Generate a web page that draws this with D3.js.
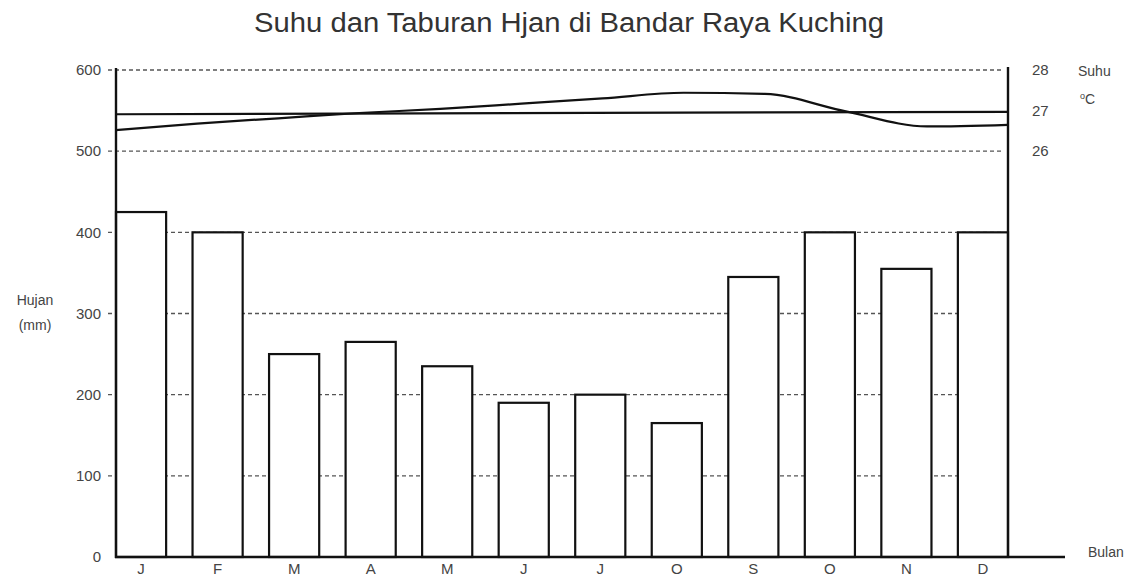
<!DOCTYPE html>
<html>
<head>
<meta charset="utf-8">
<script src="https://cdn.jsdelivr.net/npm/d3@7"></script>
<style>
  body { margin: 0; background: #fff; }
  svg { display: block; font-family: "Liberation Sans", Arial, sans-serif; }
</style>
</head>
<body>
<svg id="chart" width="1138" height="579"></svg>
<script>
// ---- data ----
const months = ["J", "F", "M", "A", "M", "J", "J", "O", "S", "O", "N", "D"];
const monthKeys = months.map((m, i) => i);
const rainfall = [425, 400, 250, 265, 235, 190, 200, 165, 345, 400, 355, 400];
const temperature = [26.52, 26.68, 26.81, 26.94, 27.04, 27.17, 27.30, 27.44, 27.41, 26.98, 26.61, 26.65];
const meanTemp = [26.91, 26.97]; // start and end of the mean line
const rainTicks = [0, 100, 200, 300, 400, 500, 600];
const tempTicks = [26, 27, 28];

const svg = d3.select("#chart");
const pLeft = 116, pRight = 1008, pTop = 70, pBottom = 557;

const x = d3.scaleBand().domain(monthKeys).range([pLeft, pRight]).paddingInner(0.345).paddingOuter(0);
const xp = d3.scalePoint().domain(monthKeys).range([pLeft, pRight]).padding(0);
const y = d3.scaleLinear().domain([0, 600]).range([pBottom, pTop]);
const yT = d3.scaleLinear().domain([26, 28]).range([y(500), y(600)]);

const textCol = "#444";
const fs = 15;

// title
svg.append("text").attr("x", 569).attr("y", 32).attr("text-anchor", "middle")
  .attr("font-size", 27).attr("fill", "#333")
  .attr("textLength", 630).attr("lengthAdjust", "spacingAndGlyphs")
  .text("Suhu dan Taburan Hjan di Bandar Raya Kuching");

// gridlines (dashed)
svg.append("g").selectAll("line").data(rainTicks.filter(d => d > 0)).join("line")
  .attr("x1", pLeft - 8).attr("x2", pRight - 4)
  .attr("y1", d => y(d)).attr("y2", d => y(d))
  .attr("stroke", "#555").attr("stroke-width", 1.3).attr("stroke-dasharray", "4,3");

// left axis labels via d3 axis
const yAxis = d3.axisLeft(y).tickValues(rainTicks).tickSize(0).tickPadding(15);
const gy = svg.append("g").attr("transform", `translate(${pLeft},0)`).call(yAxis);
gy.select(".domain").remove();
gy.selectAll("text").attr("font-size", fs).attr("fill", textCol)
  .attr("font-family", "Liberation Sans, Arial, sans-serif");

// right axis labels
const yAxisR = d3.axisRight(yT).tickValues(tempTicks).tickSize(0).tickPadding(24).tickFormat(d3.format("d"));
const gr = svg.append("g").attr("transform", `translate(${pRight},0)`).call(yAxisR);
gr.select(".domain").remove();
gr.selectAll("text").attr("font-size", fs).attr("fill", textCol)
  .attr("font-family", "Liberation Sans, Arial, sans-serif");

// bars
svg.append("g").selectAll("rect").data(rainfall).join("rect")
  .attr("x", (d, i) => x(i)).attr("width", x.bandwidth())
  .attr("y", d => y(d)).attr("height", d => y(0) - y(d))
  .attr("fill", "#fff").attr("stroke", "#111").attr("stroke-width", 2.2);

// month labels via axis
const xAxis = d3.axisBottom(x).tickSize(0).tickPadding(6).tickFormat(i => months[i]);
const gx = svg.append("g").attr("transform", `translate(0,${pBottom})`).call(xAxis);
gx.select(".domain").remove();
gx.selectAll("text").attr("font-size", fs).attr("fill", textCol)
  .attr("font-family", "Liberation Sans, Arial, sans-serif");

// axis lines
svg.append("line").attr("x1", pLeft).attr("x2", pLeft).attr("y1", pTop - 2).attr("y2", pBottom + 1)
  .attr("stroke", "#111").attr("stroke-width", 2.4);
svg.append("line").attr("x1", pRight).attr("x2", pRight).attr("y1", pTop - 3).attr("y2", pBottom + 1)
  .attr("stroke", "#111").attr("stroke-width", 2.4);
svg.append("line").attr("x1", pLeft - 1).attr("x2", 1065).attr("y1", pBottom).attr("y2", pBottom)
  .attr("stroke", "#111").attr("stroke-width", 2.6);

// mean temperature line
svg.append("line")
  .attr("x1", xp(0)).attr("x2", xp(11))
  .attr("y1", yT(meanTemp[0])).attr("y2", yT(meanTemp[1]))
  .attr("stroke", "#111").attr("stroke-width", 2.2);

// temperature curve
const line = d3.line().x((d, i) => xp(i)).y(d => yT(d)).curve(d3.curveMonotoneX);
svg.append("path").datum(temperature).attr("d", line)
  .attr("fill", "none").attr("stroke", "#111").attr("stroke-width", 2.2);

// axis titles
svg.append("text").attr("x", 35).attr("y", 305).attr("text-anchor", "middle")
  .attr("font-size", 14).attr("fill", textCol).text("Hujan");
svg.append("text").attr("x", 35).attr("y", 330).attr("text-anchor", "middle")
  .attr("font-size", 14).attr("fill", textCol).text("(mm)");
svg.append("text").attr("x", 1078).attr("y", 76)
  .attr("font-size", 14).attr("fill", textCol).text("Suhu");
const tc = svg.append("text").attr("x", 1080).attr("y", 104)
  .attr("font-size", 14).attr("fill", textCol);
tc.append("tspan").attr("font-size", 9).attr("dy", -5).text("o");
tc.append("tspan").attr("dy", 5).text("C");
svg.append("text").attr("x", 1088).attr("y", 557)
  .attr("font-size", 14).attr("fill", textCol).text("Bulan");
</script>
</body>
</html>
